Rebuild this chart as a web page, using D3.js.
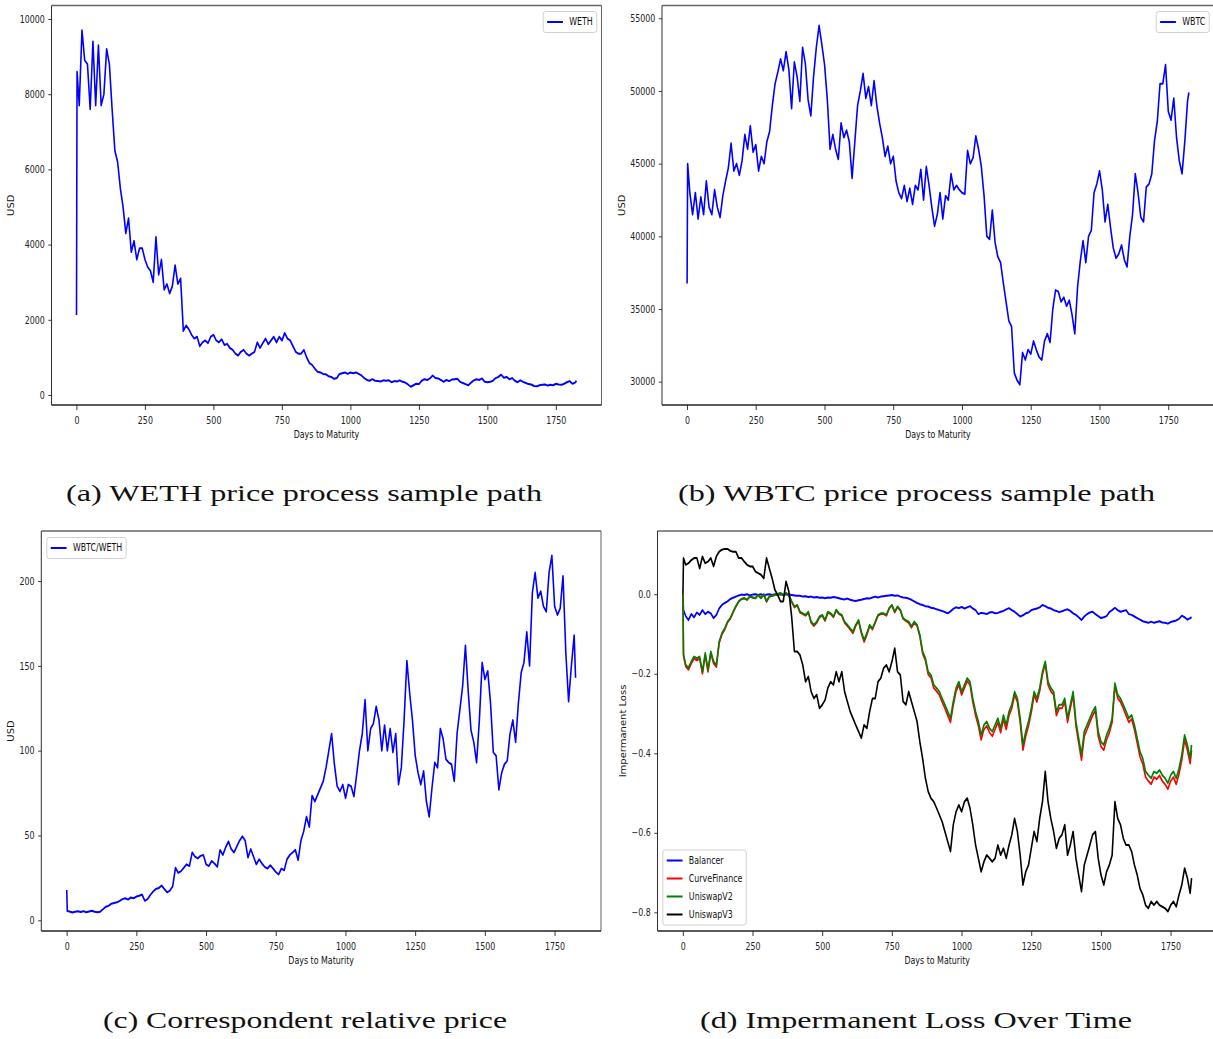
<!DOCTYPE html>
<html>
<head>
<meta charset="utf-8">
<script src="https://cdn.jsdelivr.net/npm/d3@7"></script>
<style>
  body { margin: 0; background: #fff; overflow: hidden; }
</style>
</head>
<body>
<script>
var days = [
  0, 2, 10, 20, 30, 40, 50, 60, 70, 80, 90,
  100, 110, 120, 130, 140, 150, 160, 170, 180, 190,
  200, 210, 220, 230, 240, 250, 260, 270, 280, 290,
  300, 310, 320, 330, 340, 350, 360, 370, 380, 390,
  400, 410, 420, 430, 440, 450, 460, 470, 480, 490,
  500, 510, 520, 530, 540, 550, 560, 570, 580, 590,
  600, 610, 620, 630, 640, 650, 660, 670, 680, 690,
  700, 710, 720, 730, 740, 750, 760, 770, 780, 790,
  800, 810, 820, 830, 840, 850, 860, 870, 880, 890,
  900, 910, 920, 930, 940, 950, 960, 970, 980, 990,
  1000, 1010, 1020, 1030, 1040, 1050, 1060, 1070, 1080, 1090,
  1100, 1110, 1120, 1130, 1140, 1150, 1160, 1170, 1180, 1190,
  1200, 1210, 1220, 1230, 1240, 1250, 1260, 1270, 1280, 1290,
  1300, 1310, 1320, 1330, 1340, 1350, 1360, 1370, 1380, 1390,
  1400, 1410, 1420, 1430, 1440, 1450, 1460, 1470, 1480, 1490,
  1500, 1510, 1520, 1530, 1540, 1550, 1560, 1570, 1580, 1590,
  1600, 1610, 1620, 1630, 1640, 1650, 1660, 1670, 1680, 1690,
  1700, 1710, 1720, 1730, 1740, 1750, 1760, 1770, 1780, 1790,
  1800, 1810, 1820, 1825
];

// (a) WETH price, USD
var wethPrice = [
  2130, 8600, 7700, 9700, 8900, 8800, 7600, 9400, 7700, 9300, 7700,
  8000, 9200, 8800, 7600, 6500, 6200, 5500, 5000, 4300, 4700,
  3800, 4100, 3600, 3900, 3900, 3600, 3400, 3300, 3000, 4200,
  3200, 3600, 2800, 2950, 2700, 2900, 3450, 2950, 3100, 1700,
  1850, 1750, 1600, 1500, 1550, 1300, 1400, 1450, 1380, 1550,
  1600, 1450, 1400, 1480, 1330, 1360, 1250, 1200, 1100, 1050,
  1150, 1200, 1100, 1050, 1100, 1150, 1400, 1250, 1380, 1500,
  1350, 1450, 1550, 1400, 1550, 1450, 1650, 1500, 1450, 1300,
  1150, 1100, 1100, 1200, 1000, 850, 800, 700, 620, 600,
  560, 550, 500, 480, 430, 450, 560, 580, 600, 560,
  600, 580, 600, 560, 520, 450, 400, 380, 420, 380,
  370, 360, 390, 380, 390, 340, 370, 360, 390, 350,
  330, 280, 220, 260, 300, 290, 380, 420, 400, 440,
  520, 450, 440, 400, 350, 400, 370, 410, 420, 430,
  350, 320, 290, 260, 330, 390, 420, 400, 440, 350,
  340, 350, 380, 450, 480, 540, 460, 480, 420, 450,
  380, 340, 390, 350, 320, 290, 280, 240, 230, 260,
  270, 280, 250, 270, 260, 300, 280, 270, 300, 340,
  370, 300, 330, 380
];

// (b) WBTC price, USD
var wbtcPrice = [
  36760, 45000, 43000, 41500, 43000, 41200, 42700, 41500, 43800, 42000, 41500,
  43200, 42000, 41300, 42800, 43800, 44700, 46400, 44500, 45000, 44200,
  45200, 47000, 46000, 47600, 45800, 46300, 44500, 45500, 45000, 46500,
  47200, 49000, 50500, 51300, 52200, 51400, 52700, 51500, 48800, 52000,
  51000, 49300, 53000, 51900, 49400, 48300, 51000, 53000, 54500, 53200,
  51800, 49400, 46000, 47000, 46000, 45300, 47800, 46800, 47300, 46500,
  44000, 46500, 49000, 50000, 51200, 49500, 50300, 49000, 50700, 49000,
  47800, 46800, 45500, 46200, 45000, 45500, 43800, 43000, 42600, 43500,
  42400, 43300, 42200, 43500, 43200, 44600, 42500, 44800, 43500, 42000,
  40700, 41500, 43000, 41200, 42800, 42500, 44300, 43200, 43500, 43200,
  43000, 42900, 45900, 45000, 45400, 46900, 46000, 44800, 42800, 40000,
  39800, 41800, 39600, 38600, 38200, 36800, 35500, 34200, 33800, 30600,
  30100, 29800, 32000, 31500, 32200, 31900, 32800, 32200, 31700, 31500,
  32800, 33300, 32700, 35000, 36300, 36200, 35500, 35800, 35200, 35600,
  34600, 33300, 36500, 38300, 39700, 38200, 40000, 40400, 43000, 43600,
  44500, 43200, 41000, 42200, 40600, 39200, 38500, 38800, 39400, 38400,
  37900, 40000, 41500, 44300, 43000, 41300, 41000, 43400, 43600, 44300,
  46600, 47900, 50500, 50500, 51800, 48600, 48000, 49500, 46800, 45200,
  44300, 46500, 49300, 49900
];

// (c) WBTC/WETH relative price
var wbtcPerWeth = [
  17.9, 5.5, 5.2, 4.6, 5.0, 5.3, 4.9, 5.4, 4.8, 5.2, 5.6,
  5.0, 4.7, 5.1, 6.5, 8.0, 8.5, 9.8, 10.2, 10.6, 11.5,
  12.5, 13.0, 12.2, 13.5, 13.0, 14.0, 14.5, 15.2, 11.5, 12.5,
  15.0, 17.0, 18.5, 19.0, 20.5, 18.5, 16.5, 17.5, 20.0, 31.0,
  28.0, 29.0, 31.0, 33.0, 32.0, 40.0, 37.5, 36.5, 38.0, 38.5,
  33.0, 32.0, 35.0, 33.5, 31.5, 41.5, 38.5, 43.0, 46.5, 42.0,
  40.0, 43.5, 47.0, 49.5, 47.0, 37.0, 42.0, 37.5, 33.0, 36.0,
  33.5, 31.5, 30.5, 32.5, 30.5, 28.5, 27.0, 30.5, 29.5, 36.0,
  38.5, 40.0, 41.5, 35.5, 47.0, 52.5, 61.0, 55.0, 73.5, 70.0,
  74.0, 78.0, 82.0, 90.0, 100.0, 110.0, 92.0, 79.0, 76.0, 80.0,
  72.0, 80.0, 79.0, 73.0, 86.0, 100.0, 110.0, 130.0, 100.0, 113.0,
  116.0, 126.0, 118.0, 100.0, 115.0, 100.0, 113.0, 99.0, 110.0, 80.0,
  90.0, 118.0, 153.0, 134.0, 118.0, 97.0, 87.0, 80.0, 88.0, 70.0,
  61.0, 78.0, 93.0, 90.0, 113.0, 107.0, 95.0, 93.0, 92.0, 82.0,
  110.0, 124.0, 138.0, 162.0, 135.0, 112.0, 105.0, 93.0, 118.0, 152.0,
  142.0, 147.0, 128.0, 99.0, 97.0, 77.0, 87.0, 92.0, 94.0, 110.0,
  118.0, 105.0, 128.0, 146.0, 152.0, 170.0, 150.0, 193.0, 205.0, 190.0,
  194.0, 185.0, 182.0, 205.0, 215.0, 185.0, 180.0, 184.0, 203.0, 158.0,
  129.0, 150.0, 168.0, 143.0
];

// (d) impermanent loss per protocol
var ilBalancer = [
  0.000, -0.040, -0.055, -0.065, -0.050, -0.058, -0.046, -0.052, -0.040, -0.050, -0.044,
  -0.048, -0.060, -0.052, -0.036, -0.027, -0.022, -0.018, -0.012, -0.009, -0.006,
  -0.003, -0.001, -0.002, 0.000, -0.003, -0.001, 0.000, -0.002, 0.000, -0.003,
  -0.001, 0.000, -0.002, 0.000, -0.001, 0.000, -0.002, 0.000, -0.001, -0.002,
  -0.003, -0.004, -0.004, -0.006, -0.005, -0.007, -0.006, -0.008, -0.007, -0.009,
  -0.008, -0.010, -0.008, -0.009, -0.007, -0.008, -0.010, -0.012, -0.013, -0.011,
  -0.014, -0.016, -0.017, -0.015, -0.014, -0.012, -0.010, -0.011, -0.008, -0.006,
  -0.008, -0.006, -0.005, -0.004, -0.003, -0.002, -0.004, -0.003, -0.006, -0.008,
  -0.009, -0.011, -0.014, -0.018, -0.022, -0.025, -0.027, -0.030, -0.031, -0.034,
  -0.035, -0.038, -0.040, -0.042, -0.045, -0.048, -0.043, -0.037, -0.033, -0.035,
  -0.032, -0.036, -0.033, -0.030, -0.036, -0.040, -0.050, -0.047, -0.048, -0.050,
  -0.046, -0.045, -0.048, -0.047, -0.044, -0.042, -0.038, -0.035, -0.040, -0.044,
  -0.050, -0.056, -0.053, -0.048, -0.046, -0.040, -0.038, -0.036, -0.033, -0.027,
  -0.030, -0.034, -0.036, -0.040, -0.042, -0.045, -0.043, -0.040, -0.038, -0.042,
  -0.048, -0.052, -0.058, -0.065, -0.056, -0.050, -0.046, -0.044, -0.050, -0.055,
  -0.060, -0.058, -0.055, -0.045, -0.040, -0.034, -0.040, -0.044, -0.042, -0.040,
  -0.050, -0.052, -0.056, -0.060, -0.064, -0.068, -0.070, -0.072, -0.069, -0.072,
  -0.070, -0.068, -0.071, -0.072, -0.074, -0.070, -0.068, -0.066, -0.062, -0.054,
  -0.058, -0.064, -0.060, -0.058
];

var ilCurve = [
  0.000, -0.155, -0.182, -0.190, -0.174, -0.162, -0.166, -0.162, -0.200, -0.153, -0.195,
  -0.148, -0.174, -0.183, -0.123, -0.101, -0.089, -0.071, -0.062, -0.046, -0.031,
  -0.019, -0.012, -0.010, -0.014, -0.006, -0.008, -0.010, -0.002, -0.010, 0.000,
  -0.019, -0.006, -0.004, -0.002, 0.000, 0.003, -0.002, 0.003, -0.002, -0.019,
  -0.033, -0.028, -0.046, -0.050, -0.054, -0.046, -0.072, -0.080, -0.072, -0.058,
  -0.054, -0.067, -0.046, -0.050, -0.058, -0.041, -0.050, -0.054, -0.072, -0.080,
  -0.089, -0.098, -0.080, -0.067, -0.098, -0.120, -0.102, -0.080, -0.089, -0.072,
  -0.054, -0.050, -0.050, -0.054, -0.036, -0.028, -0.046, -0.032, -0.041, -0.062,
  -0.067, -0.072, -0.084, -0.072, -0.080, -0.106, -0.149, -0.167, -0.202, -0.210,
  -0.236, -0.244, -0.253, -0.271, -0.287, -0.305, -0.322, -0.279, -0.244, -0.228,
  -0.253, -0.236, -0.218, -0.228, -0.271, -0.305, -0.331, -0.366, -0.340, -0.331,
  -0.348, -0.357, -0.340, -0.322, -0.348, -0.314, -0.340, -0.305, -0.287, -0.253,
  -0.271, -0.322, -0.392, -0.357, -0.331, -0.297, -0.253, -0.271, -0.244, -0.202,
  -0.175, -0.228, -0.244, -0.253, -0.305, -0.287, -0.287, -0.271, -0.322, -0.287,
  -0.253, -0.331, -0.374, -0.417, -0.357, -0.340, -0.322, -0.305, -0.292, -0.357,
  -0.383, -0.392, -0.366, -0.348, -0.322, -0.231, -0.261, -0.271, -0.287, -0.305,
  -0.322, -0.314, -0.340, -0.374, -0.409, -0.427, -0.460, -0.470, -0.478, -0.460,
  -0.465, -0.456, -0.470, -0.478, -0.490, -0.470, -0.460, -0.478, -0.452, -0.417,
  -0.366, -0.392, -0.426, -0.392
];

var ilUniV2 = [
  0.000, -0.150, -0.178, -0.185, -0.169, -0.157, -0.161, -0.157, -0.195, -0.148, -0.190,
  -0.144, -0.169, -0.178, -0.119, -0.098, -0.086, -0.069, -0.060, -0.044, -0.030,
  -0.018, -0.012, -0.010, -0.014, -0.006, -0.008, -0.010, -0.002, -0.010, 0.000,
  -0.018, -0.006, -0.004, -0.002, 0.000, 0.003, -0.002, 0.003, -0.002, -0.018,
  -0.031, -0.027, -0.044, -0.048, -0.052, -0.044, -0.069, -0.077, -0.069, -0.056,
  -0.052, -0.065, -0.044, -0.048, -0.056, -0.039, -0.048, -0.052, -0.069, -0.077,
  -0.086, -0.094, -0.077, -0.065, -0.094, -0.115, -0.098, -0.077, -0.086, -0.069,
  -0.052, -0.048, -0.048, -0.052, -0.035, -0.027, -0.044, -0.031, -0.039, -0.060,
  -0.065, -0.069, -0.081, -0.069, -0.077, -0.102, -0.144, -0.161, -0.195, -0.203,
  -0.228, -0.236, -0.245, -0.262, -0.278, -0.295, -0.312, -0.270, -0.236, -0.220,
  -0.245, -0.228, -0.211, -0.220, -0.262, -0.295, -0.320, -0.354, -0.329, -0.320,
  -0.337, -0.345, -0.329, -0.312, -0.337, -0.304, -0.329, -0.295, -0.278, -0.245,
  -0.262, -0.312, -0.379, -0.345, -0.320, -0.287, -0.245, -0.262, -0.236, -0.195,
  -0.169, -0.220, -0.236, -0.245, -0.295, -0.278, -0.278, -0.262, -0.312, -0.278,
  -0.245, -0.320, -0.362, -0.404, -0.345, -0.329, -0.312, -0.295, -0.283, -0.345,
  -0.371, -0.379, -0.354, -0.337, -0.312, -0.224, -0.253, -0.262, -0.278, -0.295,
  -0.312, -0.304, -0.329, -0.362, -0.396, -0.413, -0.446, -0.455, -0.463, -0.446,
  -0.450, -0.442, -0.455, -0.463, -0.475, -0.455, -0.446, -0.463, -0.438, -0.404,
  -0.354, -0.379, -0.413, -0.379
];

var ilUniV3 = [
  0.000, 0.091, 0.074, 0.078, 0.086, 0.091, 0.091, 0.065, 0.095, 0.078, 0.082,
  0.091, 0.070, 0.095, 0.107, 0.112, 0.114, 0.114, 0.109, 0.107, 0.107,
  0.091, 0.091, 0.082, 0.074, 0.070, 0.070, 0.057, 0.053, 0.049, 0.040,
  0.091, 0.065, 0.040, 0.011, -0.002, -0.018, -0.018, 0.032, 0.007, -0.056,
  -0.144, -0.144, -0.153, -0.178, -0.220, -0.207, -0.245, -0.262, -0.253, -0.287,
  -0.278, -0.266, -0.236, -0.220, -0.228, -0.195, -0.220, -0.195, -0.245, -0.270,
  -0.295, -0.312, -0.329, -0.345, -0.362, -0.329, -0.337, -0.295, -0.262, -0.262,
  -0.220, -0.211, -0.186, -0.178, -0.195, -0.169, -0.136, -0.195, -0.203, -0.270,
  -0.278, -0.245, -0.270, -0.295, -0.320, -0.371, -0.413, -0.463, -0.496, -0.513,
  -0.522, -0.538, -0.555, -0.572, -0.597, -0.622, -0.647, -0.580, -0.547, -0.530,
  -0.547, -0.522, -0.513, -0.538, -0.580, -0.631, -0.664, -0.698, -0.673, -0.656,
  -0.664, -0.673, -0.664, -0.631, -0.656, -0.639, -0.664, -0.631, -0.605, -0.564,
  -0.597, -0.656, -0.731, -0.698, -0.681, -0.639, -0.597, -0.622, -0.564, -0.522,
  -0.446, -0.522, -0.564, -0.597, -0.639, -0.614, -0.605, -0.580, -0.656, -0.631,
  -0.597, -0.664, -0.706, -0.748, -0.681, -0.656, -0.631, -0.605, -0.597, -0.664,
  -0.706, -0.731, -0.698, -0.681, -0.656, -0.522, -0.564, -0.580, -0.614, -0.631,
  -0.631, -0.647, -0.681, -0.706, -0.740, -0.756, -0.782, -0.790, -0.773, -0.782,
  -0.773, -0.782, -0.786, -0.790, -0.798, -0.782, -0.773, -0.786, -0.756, -0.731,
  -0.689, -0.714, -0.752, -0.714
];

// tick labels
var dayTicks = [0, 250, 500, 750, 1000, 1250, 1500, 1750];
var wethTicks = [0, 2000, 4000, 6000, 8000, 10000];
var wbtcTicks = [30000, 35000, 40000, 45000, 50000, 55000];
var ratioTicks = [0, 50, 100, 150, 200];
var ilTicks = [-0.8, -0.6, -0.4, -0.2, 0.0];

// the plots were squeezed sideways when placed in the figure
var squeeze = 0.79;
var tickFont = "DejaVu Sans";
var lineWidth = 2;

var svg = d3.select("body").append("svg")
    .attr("width", 1213)
    .attr("height", 1039)
    .style("background", "#fff");

var panels = [
  { box: [51.5, 5.5, 601.5, 405], yDomain: [-266, 10359], yTicks: wethTicks, yFormat: d3.format("d"),
    yLabel: "USD", legend: "upper right",
    series: [{ name: "WETH", values: wethPrice, color: "#0000ff" }] },
  { box: [662, 5.5, 1214, 405], yDomain: [28397, 55881], yTicks: wbtcTicks, yFormat: d3.format("d"),
    yLabel: "USD", legend: "upper right",
    series: [{ name: "WBTC", values: wbtcPrice, color: "#0000ff" }] },
  { box: [41.3, 531, 601, 931], yDomain: [-6.3, 229.5], yTicks: ratioTicks, yFormat: d3.format("d"),
    yLabel: "USD", legend: "upper left",
    series: [{ name: "WBTC/WETH", values: wbtcPerWeth, color: "#0000ff" }] },
  { box: [657.5, 531, 1217, 931], yDomain: [-0.847, 0.159], yTicks: ilTicks, yFormat: d3.format(".1f"),
    yLabel: "Impermanent Loss", legend: "lower left",
    series: [
      { name: "Balancer", values: ilBalancer, color: "#0000ff" },
      { name: "CurveFinance", values: ilCurve, color: "#ff0000" },
      { name: "UniswapV2", values: ilUniV2, color: "#008000" },
      { name: "UniswapV3", values: ilUniV3, color: "#000000" }
    ] }
];

var captions = [
  { text: "(a) WETH price process sample path", x: 66, y: 501, len: 476 },
  { text: "(b) WBTC price process sample path", x: 678, y: 501, len: 477 },
  { text: "(c) Correspondent relative price", x: 103, y: 1028, len: 404 },
  { text: "(d) Impermanent Loss Over Time", x: 700, y: 1028, len: 432 }
];

panels.forEach(drawPanel);

svg.selectAll(".caption")
    .data(captions)
  .enter().append("text")
    .attr("class", "caption")
    .attr("x", function(d) { return d.x; })
    .attr("y", function(d) { return d.y; })
    .attr("textLength", function(d) { return d.len; })
    .attr("lengthAdjust", "spacingAndGlyphs")
    .style("font-family", "Liberation Serif")
    .style("font-size", "24px")
    .style("fill", "#111")
    .text(function(d) { return d.text; });

function drawPanel(p) {
  var w = (p.box[2] - p.box[0]) / squeeze,
      h = p.box[3] - p.box[1];

  var g = svg.append("g")
      .attr("transform", "translate(" + p.box[0] + "," + p.box[1] + ") scale(" + squeeze + ",1)");

  var x = d3.scaleLinear().domain([-91.25, 1916.25]).range([0, w]);
  var y = d3.scaleLinear().domain(p.yDomain).range([h, 0]);

  // the sample paths
  p.series.forEach(function(s) {
    var line = d3.line()
        .defined(function(d) { return d != null; })
        .x(function(d, i) { return x(days[i]); })
        .y(function(d) { return y(d); });
    g.append("path")
        .datum(s.values)
        .attr("fill", "none")
        .attr("stroke", s.color)
        .attr("stroke-width", lineWidth)
        .attr("stroke-linejoin", "round")
        .attr("d", line);
  });

  // x axis
  var xa = g.append("g")
      .attr("transform", "translate(0," + h + ")")
      .call(d3.axisBottom(x).tickValues(dayTicks).tickFormat(d3.format("d")).tickSize(5).tickPadding(7));
  xa.select(".domain").remove();

  // y axis
  var ya = g.append("g")
      .call(d3.axisLeft(y).tickValues(p.yTicks).tickFormat(p.yFormat).tickSize(4).tickPadding(4.5));
  ya.select(".domain").remove();

  [xa, ya].forEach(function(a) {
    a.attr("font-family", tickFont).attr("font-size", 10).attr("color", "#222");
  });

  // spines
  var spines = [
    { x1: 0, y1: 0, x2: w, y2: 0, c: "#666" },
    { x1: w, y1: 0, x2: w, y2: h, c: "#666" },
    { x1: 0, y1: h, x2: w, y2: h, c: "#222" },
    { x1: 0, y1: 0, x2: 0, y2: h, c: "#333" }
  ];
  g.selectAll(".spine")
      .data(spines)
    .enter().append("line")
      .attr("class", "spine")
      .attr("x1", function(d) { return d.x1; })
      .attr("y1", function(d) { return d.y1; })
      .attr("x2", function(d) { return d.x2; })
      .attr("y2", function(d) { return d.y2; })
      .attr("stroke", function(d) { return d.c; })
      .attr("stroke-width", 1.3);

  // axis titles
  g.append("text")
      .attr("x", w / 2)
      .attr("y", h + 33.5)
      .attr("text-anchor", "middle")
      .style("font-family", tickFont)
      .style("font-size", "10px")
      .style("fill", "#111")
      .text("Days to Maturity");

  var yb = ya.node().getBBox();
  g.append("text")
      .attr("transform", "translate(" + (yb.x - 10.5) + "," + (h / 2) + ") rotate(-90)")
      .attr("text-anchor", "middle")
      .attr("dominant-baseline", "central")
      .style("font-family", tickFont)
      .style("font-size", "10px")
      .style("fill", "#111")
      .text(p.yLabel);

  drawLegend(g, p, w, h);
}

function drawLegend(g, p, w, h) {
  var pad = 5, handle = 20, gap = 8, rowH = 18, edge = 10.5;
  var lg = g.append("g");

  var box = lg.append("rect")
      .attr("rx", 3)
      .attr("fill", "#fff")
      .attr("fill-opacity", 0.8)
      .attr("stroke", "#cccccc")
      .attr("stroke-width", 1);

  var rows = lg.selectAll(".row")
      .data(p.series)
    .enter().append("g")
      .attr("class", "row")
      .attr("transform", function(d, i) { return "translate(0," + (edge + i * rowH) + ")"; });

  rows.append("line")
      .attr("x1", pad).attr("x2", pad + handle)
      .attr("y1", 0).attr("y2", 0)
      .attr("stroke", function(d) { return d.color; })
      .attr("stroke-width", lineWidth);

  rows.append("text")
      .attr("x", pad + handle + gap)
      .attr("y", 0)
      .attr("dominant-baseline", "central")
      .style("font-family", tickFont)
      .style("font-size", "10px")
      .style("fill", "#111")
      .text(function(d) { return d.name; });

  var textW = d3.max(rows.selectAll("text").nodes(), function(n) { return n.getComputedTextLength(); });
  var bw = pad + handle + gap + textW + pad,
      bh = edge * 2 + (p.series.length - 1) * rowH;
  box.attr("width", bw).attr("height", bh);

  var lx, ly;
  if (p.legend === "upper right") { lx = w - 6 - bw; ly = 6; }
  else if (p.legend === "upper left") { lx = 7; ly = 6.5; }
  else { lx = 6.7; ly = h - 6 - bh; }
  lg.attr("transform", "translate(" + lx + "," + ly + ")");
}
</script>
</body>
</html>
